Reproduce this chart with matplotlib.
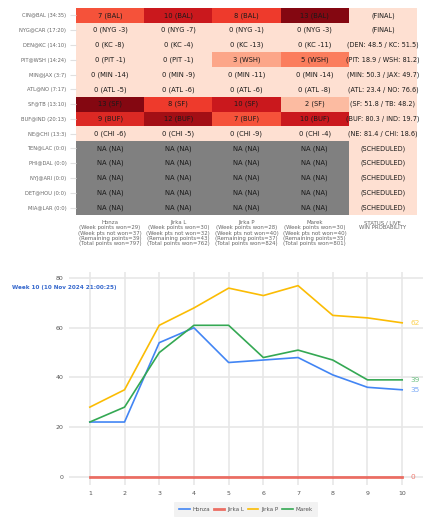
import numpy as np
import matplotlib.pyplot as plt
from matplotlib.colors import Normalize, ListedColormap

# ---- heatmap data ----
games = ["CIN@BAL (34:35)", "NYG@CAR (17:20)", "DEN@KC (14:10)", "PIT@WSH (14:24)",
         "MIN@JAX (3:7)", "ATL@NO (7:17)", "SF@TB (13:10)", "BUF@IND (20:13)",
         "NE@CHI (13:3)", "TEN@LAC (0:0)", "PHI@DAL (0:0)", "NYJ@ARI (0:0)",
         "DET@HOU (0:0)", "MIA@LAR (0:0)"]
players = ["Honza", "Jirka L", "Jirka P", "Marek"]
na = np.nan
points = [[7, 10, 8, 13],
          [0, 0, 0, 0],
          [0, 0, 0, 0],
          [0, 0, 3, 5],
          [0, 0, 0, 0],
          [0, 0, 0, 0],
          [13, 8, 10, 2],
          [9, 12, 7, 10],
          [0, 0, 0, 0],
          [na, na, na, na],
          [na, na, na, na],
          [na, na, na, na],
          [na, na, na, na],
          [na, na, na, na]]
picks = [["BAL", "BAL", "BAL", "BAL"],
         ["NYG -3", "NYG -7", "NYG -1", "NYG -3"],
         ["KC -8", "KC -4", "KC -13", "KC -11"],
         ["PIT -1", "PIT -1", "WSH", "WSH"],
         ["MIN -14", "MIN -9", "MIN -11", "MIN -14"],
         ["ATL -5", "ATL -6", "ATL -6", "ATL -8"],
         ["SF", "SF", "SF", "SF"],
         ["BUF", "BUF", "BUF", "BUF"],
         ["CHI -6", "CHI -5", "CHI -9", "CHI -4"],
         ["NA"] * 4, ["NA"] * 4, ["NA"] * 4, ["NA"] * 4, ["NA"] * 4]
status = ["(FINAL)", "(FINAL)", "(DEN: 48.5 / KC: 51.5)", "(PIT: 18.9 / WSH: 81.2)",
          "(MIN: 50.3 / JAX: 49.7)", "(ATL: 23.4 / NO: 76.6)", "(SF: 51.8 / TB: 48.2)",
          "(BUF: 80.3 / IND: 19.7)", "(NE: 81.4 / CHI: 18.6)", "(SCHEDULED)",
          "(SCHEDULED)", "(SCHEDULED)", "(SCHEDULED)", "(SCHEDULED)"]
week_won = [29, 30, 28, 30]
week_not_won = [37, 32, 40, 40]
remaining = [39, 43, 37, 35]
total_won = [797, 762, 824, 801]

# ---- line chart data ----
weeks = [1, 2, 3, 4, 5, 6, 7, 8, 9, 10]
honza = [22, 22, 54, 60, 46, 47, 48, 41, 36, 35]
jirka_l = [0, 0, 0, 0, 0, 0, 0, 0, 0, 0]
jirka_p = [28, 35, 61, 68, 76, 73, 77, 65, 64, 62]
marek = [22, 28, 50, 61, 61, 48, 51, 47, 39, 39]

W, H = 435, 530
fig = plt.figure(figsize=(W / 100, H / 100), dpi=100)

def px(l, t, r, b):
    return [l / W, 1 - b / H, (r - l) / W, (b - t) / H]

# ---------------- heatmap ----------------
ax = fig.add_axes(px(76, 8, 417, 215))
P = np.array(points, dtype=float)
n = len(games)
cmap = plt.get_cmap("Reds").copy()
cmap.set_bad("#808080")
norm = Normalize(vmin=-2, vmax=14)
ax.pcolormesh(np.arange(5), np.arange(n + 1), np.ma.masked_invalid(P),
              cmap=cmap, norm=norm, edgecolor="none")
ax.pcolormesh([4, 5], np.arange(n + 1), np.zeros((n, 1)),
              cmap=ListedColormap([cmap(norm(0))]), edgecolor="none")
for i in range(n):
    for j in range(4):
        v = P[i, j]
        txt = "NA (NA)" if np.isnan(v) else "%d (%s)" % (v, picks[i][j])
        ax.text(j + 0.5, i + 0.5, txt, ha="center", va="center",
                fontsize=4.9, color="#1a1a1a")
    ax.text(4.5, i + 0.5, status[i], ha="center", va="center",
            fontsize=4.7, color="#1a1a1a")
ax.set_xlim(0, 5)
ax.set_ylim(n, 0)
ax.set_yticks(np.arange(n) + 0.5)
ax.set_yticklabels(games, fontsize=3.7, color="#666666")
ax.tick_params(axis="y", length=4, color="#e0e0e0", pad=3)
ax.set_xticks([])
for s in ax.spines.values():
    s.set_visible(False)

col_labels = []
for k in range(4):
    col_labels.append("%s\n(Week points won=%d)\n(Week pts not won=%d)\n"
                      "(Remaining points=%d)\n(Total points won=%d)"
                      % (players[k], week_won[k], week_not_won[k], remaining[k], total_won[k]))
col_labels.append("STATUS / LIVE\nWIN PROBABILITY")
for k, lab in enumerate(col_labels):
    ax.text(k + 0.5, n + 0.35, lab, ha="center", va="top", fontsize=3.9,
            color="#666666", linespacing=1.05)

# ---------------- line chart ----------------
fig.text(12 / W, 1 - 287 / H, "Week 10 (10 Nov 2024 21:00:25)", fontsize=4.1,
         color="#3366cc", fontweight="semibold", va="center")

ax2 = fig.add_axes(px(69, 272, 423, 485))
series = [("Honza", honza, "#4285F4"), ("Jirka L", jirka_l, "#EA4335"),
          ("Jirka P", jirka_p, "#FBBC04"), ("Marek", marek, "#34A853")]
for name, vals, c in series:
    lw = 2.0 if name == "Jirka L" else 1.2
    a = 0.75 if name == "Jirka L" else 1
    ax2.plot(weeks, vals, color=c, lw=lw, alpha=a, label=name)
    ax2.text(weeks[-1] + 0.25, vals[-1], str(vals[-1]), color=c, alpha=0.7,
             fontsize=5.3, va="center", ha="left")
ax2.set_xlim(0.4, 10.6)
ax2.set_ylim(-3.4, 82.5)
ax2.set_xticks(weeks)
ax2.set_yticks([0, 20, 40, 60, 80])
ax2.grid(True, color="#e6e6e6", lw=1.1)
ax2.set_axisbelow(True)
ax2.tick_params(length=0, labelsize=4.5, labelcolor="#555555", pad=4)
for s in ax2.spines.values():
    s.set_visible(False)
leg = ax2.legend(loc="upper center", bbox_to_anchor=(0.5, -0.065), ncol=4,
                 fontsize=4.1, frameon=True, handlelength=1.8, columnspacing=0.7,
                 handletextpad=0.5, borderpad=0.9)
leg.get_frame().set_facecolor("#efefef")
leg.get_frame().set_edgecolor("none")
for t in leg.get_texts():
    t.set_color("#555555")

fig.savefig("out.png", dpi=100)
